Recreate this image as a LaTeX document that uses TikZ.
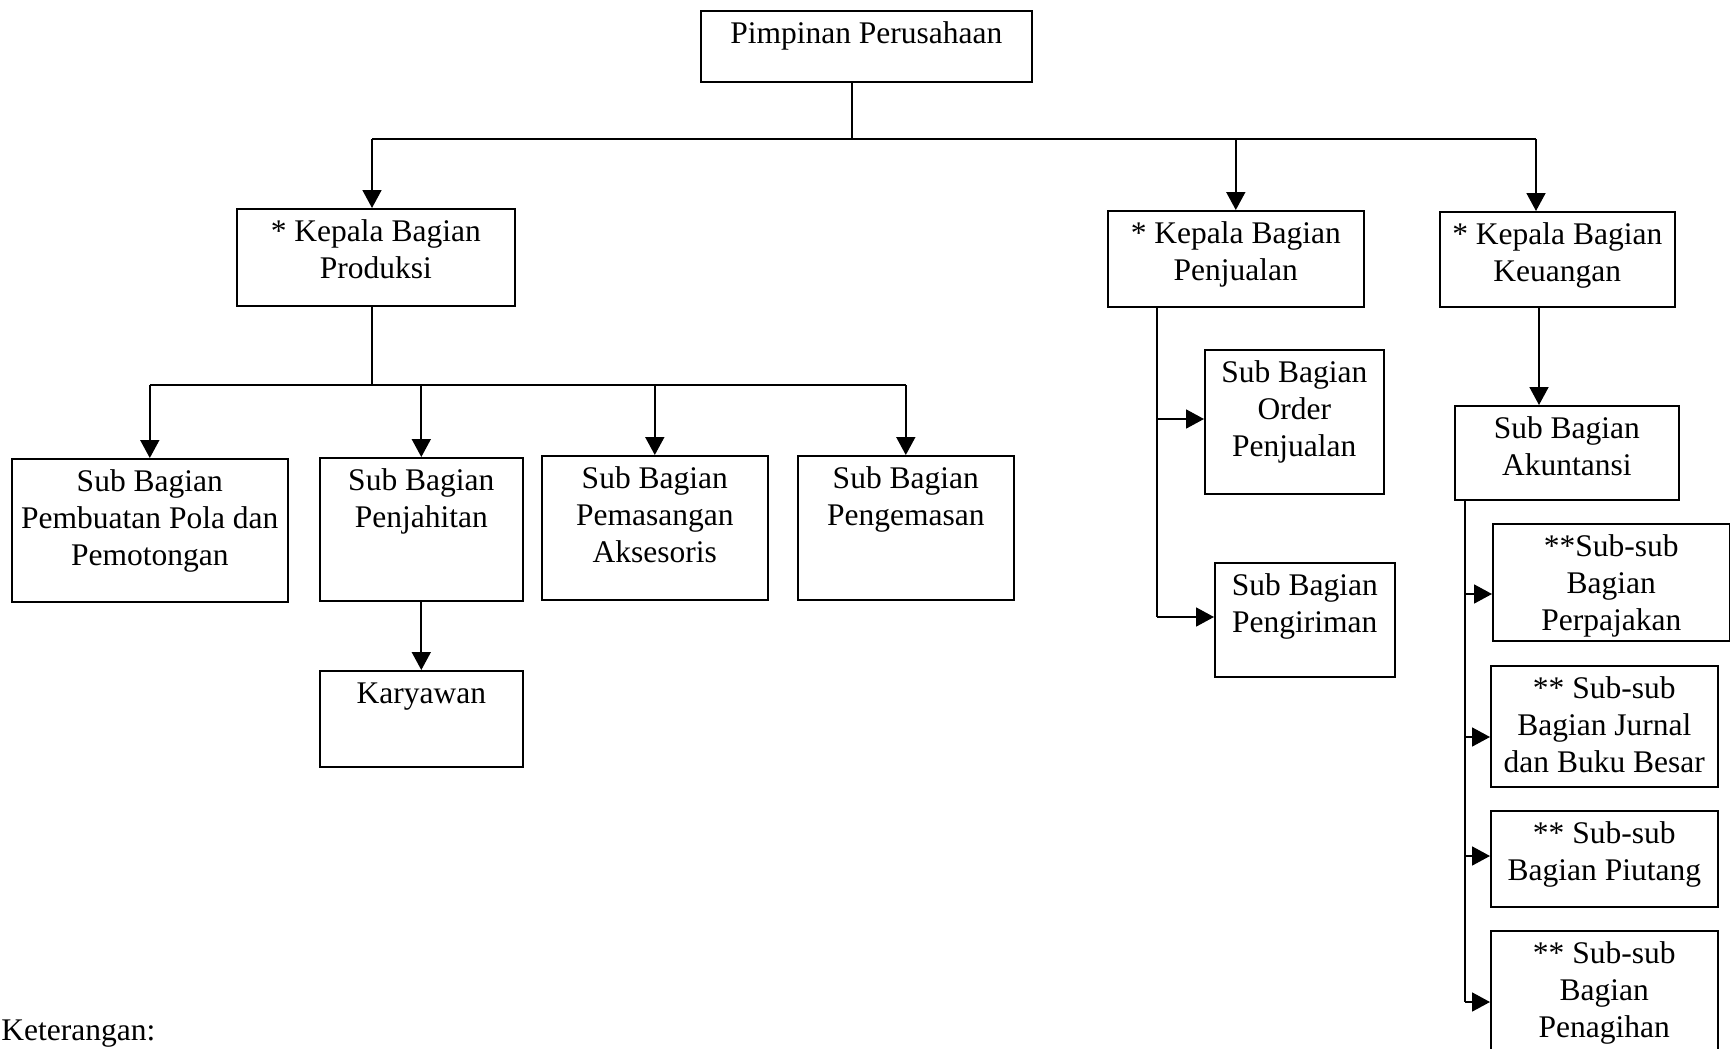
\documentclass[tikz,border=0pt]{standalone}
\usepackage{fontspec}
\setmainfont{Liberation Serif}
\usetikzlibrary{arrows.meta}
\newcommand\orgbox[6]{%
  \pgfmathsetmacro\obW{(#4-#2)*0.5}%
  \pgfmathsetmacro\obD{(#5-#3-32.5)*0.5}%
  \node[obox, minimum width=\obW pt, text depth=\obD pt, anchor=north west] (#1) at (#2,#3) {\parbox[t]{\obW pt}{\centering #6}};%
}
\begin{document}
\begin{tikzpicture}[x=0.5pt,y=-0.5pt,
  obox/.style={draw, line width=0.8pt, inner sep=0pt, text height=16.25pt, font=\fontsize{15.75pt}{18.5pt}\selectfont},
  conn/.style={line width=0.9pt},
  arr/.style={conn, -{Triangle[length=9pt,width=9.5pt]}}]
\useasboundingbox (0,0) rectangle (1730,1049);
\clip (0,0) rectangle (1730,1049);
\fill[white] (0,0) rectangle (1730,1049);

% boxes
\orgbox{pimp}{700}{10}{1031}{81}{Pimpinan Perusahaan}
\orgbox{prod}{236}{208}{514}{305}{* Kepala Bagian\\Produksi}
\orgbox{pjl}{1107}{210}{1363}{306}{* Kepala Bagian\\Penjualan}
\orgbox{keu}{1439}{211}{1674}{306}{* Kepala Bagian\\Keuangan}

\orgbox{pola}{11}{458}{287}{601}{Sub Bagian\\Pembuatan Pola dan\\Pemotongan}
\orgbox{jahit}{319}{457}{522}{600}{Sub Bagian\\Penjahitan}
\orgbox{pasang}{541}{455}{767}{599}{Sub Bagian\\Pemasangan\\Aksesoris}
\orgbox{kemas}{797}{455}{1013}{599}{Sub Bagian\\Pengemasan}
\orgbox{kary}{319}{670}{522}{766}{Karyawan}

\orgbox{order}{1204}{349}{1383}{493}{Sub Bagian\\Order\\Penjualan}
\orgbox{kirim}{1214}{562}{1394}{676}{Sub Bagian\\Pengiriman}

\orgbox{akun}{1454}{405}{1678}{499}{Sub Bagian\\Akuntansi}
\orgbox{perp}{1492}{523}{1729}{640}{**Sub-sub\\Bagian\\Perpajakan}
\orgbox{jurnal}{1490}{665}{1717}{786}{** Sub-sub\\Bagian Jurnal\\dan Buku Besar}
\orgbox{piut}{1490}{810}{1717}{906}{** Sub-sub\\Bagian Piutang}
\orgbox{tagih}{1490}{930}{1717}{1074}{** Sub-sub\\Bagian\\Penagihan}

\node[font=\fontsize{15.75pt}{18.5pt}\selectfont, anchor=base west, inner sep=0pt] (ket) at (1,1040) {Keterangan:};

% top level connectors
\coordinate (j0) at (852,139);
\coordinate (bL) at (372,139);
\coordinate (bR) at (1536,139);
\draw[conn] (pimp.south -| j0) -- (j0);
\draw[conn] (bL) -- (bR);
\draw[arr] (bL) -- (bL |- prod.north);
\draw[arr] (pjl.north |- bL) -- (pjl.north);
\draw[arr] (bR) -- (bR |- keu.north);

% produksi
\coordinate (pb) at (372,385);
\draw[conn] (bL |- prod.south) -- (pb);
\draw[conn] (pola.north |- pb) -- (kemas.north |- pb);
\draw[arr] (pola.north |- pb) -- (pola.north);
\draw[arr] (jahit.north |- pb) -- (jahit.north);
\draw[arr] (pasang.north |- pb) -- (pasang.north);
\draw[arr] (kemas.north |- pb) -- (kemas.north);
\draw[arr] (jahit.south) -- (kary.north);

% penjualan
\coordinate (s1) at (1157,0);
\coordinate (yo) at (0,419);
\coordinate (yk) at (0,617);
\draw[conn] (s1 |- pjl.south) -- (s1 |- yk);
\draw[arr] (s1 |- yo) -- (order.west |- yo);
\draw[arr] (s1 |- yk) -- (kirim.west |- yk);

% keuangan
\coordinate (k1) at (1539,0);
\draw[arr] (k1 |- keu.south) -- (k1 |- akun.north);
\coordinate (a1) at (1465,0);
\coordinate (ya) at (0,594);
\coordinate (yb) at (0,737);
\coordinate (yc) at (0,856);
\coordinate (yd) at (0,1002);
\draw[conn] (a1 |- akun.south) -- (a1 |- yd);
\draw[arr] (a1 |- ya) -- (perp.west |- ya);
\draw[arr] (a1 |- yb) -- (jurnal.west |- yb);
\draw[arr] (a1 |- yc) -- (piut.west |- yc);
\draw[arr] (a1 |- yd) -- (tagih.west |- yd);
\end{tikzpicture}
\end{document}
